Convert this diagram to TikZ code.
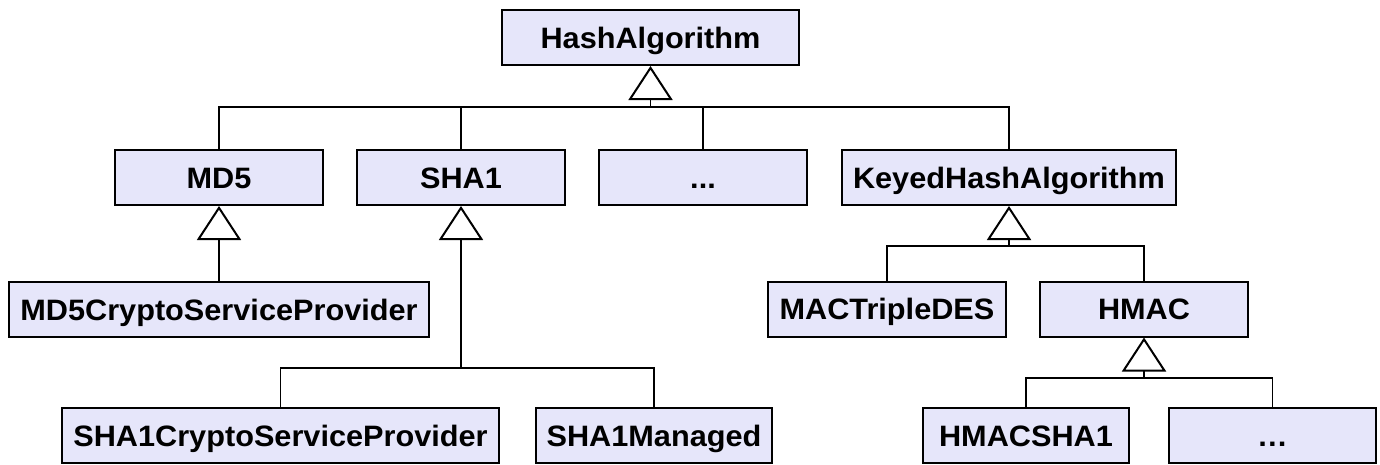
\documentclass[tikz,border=0pt]{standalone}
\usepackage{fontspec}
\setmainfont{Liberation Sans}[FakeStretch=1.04]
\usetikzlibrary{arrows.meta}
\definecolor{classfill}{RGB}{230,230,250}
\tikzset{
  class/.style={draw=black, fill=classfill, line width=2pt, inner sep=0pt,
    minimum height=55pt, text height=21pt, text depth=0pt,
    font=\fontsize{29.5}{35}\selectfont\bfseries},
  link/.style={line width=1.3pt},
  inherit/.style={link, -{Triangle[open, length=34pt, width=44pt, line width=2pt]}}
}
\begin{document}
\begin{tikzpicture}[x=1pt, y=-1pt]
\useasboundingbox (0,0) rectangle (1380,464);

% Classes
\node[class, minimum width=297pt] (hash) at (650.5,37.5) {HashAlgorithm};
\node[class, minimum width=208pt] (md5) at (219,177.5) {MD5};
\node[class, minimum width=208pt] (sha) at (461,177.5) {SHA1};
\node[class, minimum width=208pt] (more) at (703,177.5) {...};
\node[class, minimum width=334pt] (keyed) at (1009,177.5) {KeyedHashAlgorithm};
\node[class, minimum width=420pt] (md5csp) at (219,309.5) {MD5CryptoServiceProvider};
\node[class, minimum width=238pt] (mac) at (887,309) {MACTripleDES};
\node[class, minimum width=208pt] (hmac) at (1144,309) {HMAC};
\node[class, minimum width=437pt] (sha1csp) at (280.5,435.5) {SHA1CryptoServiceProvider};
\node[class, minimum width=236pt] (sha1man) at (654,435.5) {SHA1Managed};
\node[class, minimum width=206pt] (hmacsha1) at (1026,435.5) {HMACSHA1};
\node[class, minimum width=207pt] (hmacmore) at (1272.5,435.5) {…};

% Junctions
\coordinate (hashbar) at (hash.south |- 0,107);
\coordinate (shabar) at (sha.south |- 0,368);
\coordinate (keyedbar) at (keyed.south |- 0,246);
\coordinate (hmacbar) at (hmac.south |- 0,378);

% Inheritance
\draw[inherit] (hashbar) -- (hash.south);
\draw[link] (md5.north) |- (hashbar) -| (keyed.north);
\draw[link] (sha.north) -- (sha.north |- hashbar);
\draw[link] (more.north) -- (more.north |- hashbar);

\draw[inherit] (md5csp.north) -- (md5.south);

\draw[inherit] (shabar) -- (sha.south);
\draw[link] (sha1csp.north) |- (shabar) -| (sha1man.north);

\draw[inherit] (keyedbar) -- (keyed.south);
\draw[link] (mac.north) |- (keyedbar) -| (hmac.north);

\draw[inherit] (hmacbar) -- (hmac.south);
\draw[link] (hmacsha1.north) |- (hmacbar) -| (hmacmore.north);
\end{tikzpicture}
\end{document}
